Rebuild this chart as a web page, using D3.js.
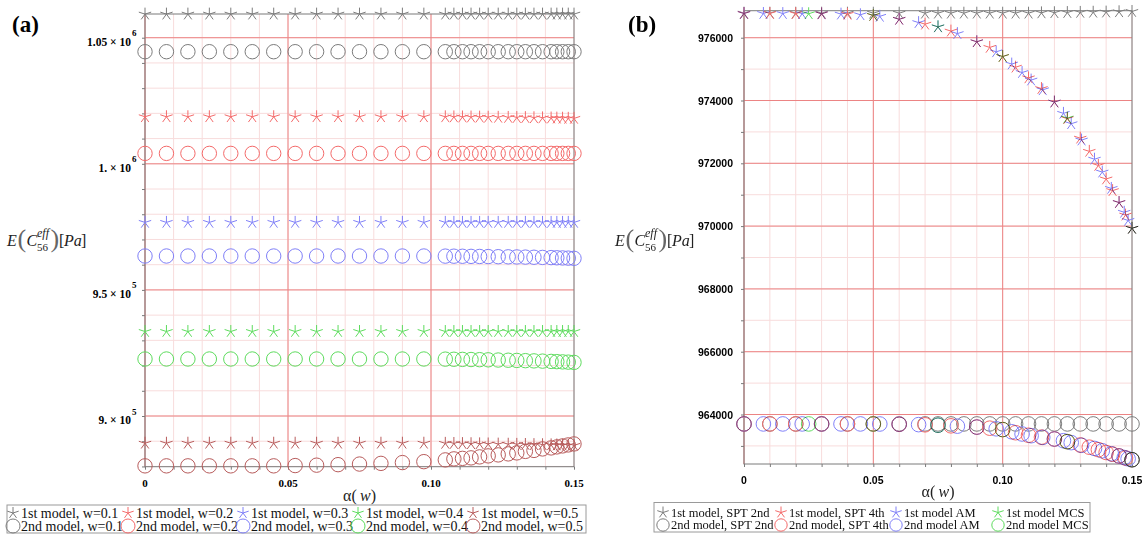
<!DOCTYPE html>
<html><head><meta charset="utf-8">
<script src="https://cdn.jsdelivr.net/npm/d3@7/dist/d3.min.js"></script>
<style>html,body{margin:0;padding:0;background:#fff;}svg{display:block;}</style>
</head><body>
<svg id="chart" width="1143" height="534"></svg>
<script>
// ================= Panel (a) data =================
const alphaA = [0,0.0075,0.015,0.0225,0.03,0.0375,0.045,0.0525,0.06,0.0675,0.075,0.0825,0.09,0.0975,0.105,0.108,0.111,0.114,0.117,0.12,0.1235,0.127,0.13,0.133,0.136,0.139,0.142,0.144,0.146,0.148,0.15];
const m1_w01 = [1059350,1059350,1059350,1059350,1059350,1059350,1059350,1059350,1059350,1059350,1059350,1059350,1059350,1059350,1059350,1059350,1059350,1059350,1059350,1059350,1059350,1059350,1059350,1059350,1059350,1059350,1059350,1059350,1059350,1059350,1059350];
const m2_w01 = [1044450,1044450,1044450,1044450,1044450,1044450,1044450,1044450,1044450,1044450,1044450,1044450,1044450,1044450,1044450,1044450,1044450,1044450,1044450,1044450,1044450,1044450,1044450,1044450,1044450,1044450,1044450,1044450,1044450,1044450,1044450];
const m1_w02 = [1018650,1018650,1018650,1018650,1018650,1018650,1018650,1018650,1018650,1018650,1018650,1018650,1018650,1018650,1018620,1018590,1018560,1018530,1018500,1018460,1018420,1018380,1018340,1018300,1018250,1018200,1018150,1018110,1018070,1018030,1018000];
const m2_w02 = [1004130,1004130,1004130,1004130,1004130,1004130,1004130,1004130,1004130,1004130,1004130,1004130,1004130,1004130,1004130,1004130,1004130,1004130,1004130,1004130,1004130,1004130,1004130,1004130,1004130,1004130,1004130,1004130,1004130,1004130,1004130];
const m1_w03 = [976760,976760,976760,976760,976760,976760,976760,976760,976760,976760,976760,976760,976760,976760,976760,976760,976760,976760,976760,976760,976760,976760,976760,976760,976760,976760,976760,976760,976760,976760,976760];
const m2_w03 = [963440,963440,963440,963440,963440,963440,963440,963440,963440,963440,963440,963440,963440,963440,963400,963370,963340,963300,963260,963220,963170,963120,963070,963010,962950,962880,962810,962740,962670,962600,962530];
const m1_w04 = [933500,933500,933500,933500,933500,933500,933500,933500,933500,933500,933500,933500,933500,933500,933500,933500,933500,933500,933500,933500,933500,933500,933500,933500,933500,933500,933500,933500,933500,933500,933500];
const m2_w04 = [922600,922600,922600,922600,922600,922600,922600,922600,922600,922600,922600,922600,922600,922600,922550,922500,922450,922400,922340,922280,922200,922120,922040,921950,921860,921760,921650,921560,921460,921360,921260];
const m1_w05 = [889200,889200,889200,889200,889200,889200,889200,889200,889200,889200,889200,889200,889200,889200,889150,889100,889050,889000,888950,888900,888850,888800,888750,888700,888650,888600,888550,888500,888450,888400,888350];
const m2_w05 = [880235,880235,880235,880235,880235,880235,880235,880350,880510,880710,880950,881220,881540,881900,882600,883000,883200,883400,883790,884190,884580,884980,885370,885970,886360,886950,887350,887750,888140,888540,888930];
const legendA1 = ["1st model, w=0.1","1st model, w=0.2","1st model, w=0.3","1st model, w=0.4","1st model, w=0.5"];
const legendA2 = ["2nd model, w=0.1","2nd model, w=0.2","2nd model, w=0.3","2nd model, w=0.4","2nd model, w=0.5"];
const xTickVals = [0,0.05,0.10,0.15];
const xTickLabels = ["0","0.05","0.10","0.15"];
const yTicksA = [900000,950000,1000000,1050000];
const yTickLabelsA = ["9. \u00d7 10","9.5 \u00d7 10","1. \u00d7 10","1.05 \u00d7 10"];
const yTickExpA = ["5","5","6","6"];

// ================= Panel (b) data =================
const alphaB_spt2 = [0,0.01,0.02,0.03,0.04,0.05,0.06,0.07,0.075,0.08,0.085,0.09,0.095,0.1,0.105,0.11,0.115,0.12,0.125,0.13,0.135,0.14,0.145,0.15];
const m1_spt2 = [976780,976780,976780,976780,976780,976780,976780,976780,976780,976780,976780,976780,976780,976780,976780,976780,976790,976795,976800,976805,976810,976815,976825,976835];
const m2_spt2 = [963700,963700,963700,963700,963700,963700,963700,963700,963700,963700,963700,963700,963700,963700,963700,963700,963700,963700,963700,963700,963700,963700,963700,963700];
const alphaB_spt4 = [0,0.01,0.02,0.03,0.04,0.05,0.06,0.07,0.08,0.09,0.095,0.1,0.105,0.11,0.115,0.12,0.125,0.13,0.1335,0.137,0.14,0.1425,0.145,0.1475,0.15];
const m1_spt4 = [976770,976770,976765,976760,976745,976705,976585,976430,976210,975870,975690,975400,975060,974720,974380,973950,973420,972800,972380,971930,971500,971130,970750,970350,969930];
const m2_spt4 = [963700,963700,963700,963700,963700,963700,963690,963672,963640,963600,963565,963520,963420,963340,963280,963220,963135,963030,962960,962880,962790,962735,962680,962615,962560];
const alphaB_am = [0,0.0075,0.015,0.0225,0.03,0.0375,0.045,0.0525,0.06,0.0675,0.075,0.0825,0.09,0.0975,0.1035,0.1075,0.111,0.1155,0.12,0.1235,0.1265,0.1305,0.1355,0.1385,0.142,0.145,0.147,0.1485,0.15];
const m1_am = [976770,976770,976768,976764,976760,976750,976730,976680,976585,976480,976345,976130,975870,975550,975160,974890,974650,974340,973950,973590,973260,972740,972130,971720,971200,970750,970440,970180,969930];
const m2_am = [963700,963700,963700,963700,963700,963700,963700,963698,963690,963678,963660,963630,963600,963545,963450,963380,963325,963272,963220,963165,963105,963020,962920,962845,962750,962680,962630,962590,962560];
const alphaB_mcs = [0.025,0.05,0.075,0.1,0.125,0.15];
const m1_mcs = [976762,976710,976345,975400,973440,969930];
const m2_mcs = [963700,963700,963660,963520,963135,962560];
const legendB1 = ["1st model, SPT 2nd","1st model, SPT 4th","1st model AM","1st model MCS"];
const legendB2 = ["2nd model, SPT 2nd","2nd model, SPT 4th","2nd model AM","2nd model MCS"];
const yTicksB = [964000,966000,968000,970000,972000,974000,976000];

// ================= Styles =================
const SERIF = "'Liberation Serif','Times New Roman',Times,serif";
const SANS = "'Liberation Sans',Arial,Helvetica,sans-serif";
const MAJOR = "#ec8484", MINOR = "#f8dcdc", AXIS = "#7a7a7a";
const C_GRAY = "#7c7c7c", C_RED = "#f46a6a", C_BLUE = "#8080f8", C_GREEN = "#5edc5e", C_BROWN = "#b85c5c";

const svg = d3.select("#chart");

function starPath(r){
  return [90,18,-54,-126,162].map(a=>{
    const t=a*Math.PI/180;
    return `M0,0L${(r*Math.cos(t)).toFixed(2)},${(-r*Math.sin(t)).toFixed(2)}`;
  }).join("");
}

function panel(o){
  const g = svg.append("g");
  const [xl,xr] = o.x.range(), [yb,yt] = o.y.range();
  g.append("g").selectAll("line").data(o.xMinor).join("line")
    .attr("x1",d=>o.x(d)).attr("x2",d=>o.x(d)).attr("y1",yb).attr("y2",yt).attr("stroke",MINOR);
  g.append("g").selectAll("line").data(o.yMinor).join("line")
    .attr("y1",d=>o.y(d)).attr("y2",d=>o.y(d)).attr("x1",xl).attr("x2",xr).attr("stroke",MINOR);
  g.append("g").selectAll("line").data(o.xMajor).join("line")
    .attr("x1",d=>o.x(d)).attr("x2",d=>o.x(d)).attr("y1",yb).attr("y2",yt).attr("stroke",MAJOR);
  g.append("g").selectAll("line").data(o.yMajor).join("line")
    .attr("y1",d=>o.y(d)).attr("y2",d=>o.y(d)).attr("x1",xl).attr("x2",xr).attr("stroke",MAJOR);
  const clean = s=>{ s.select(".domain").remove(); s.selectAll("line").attr("stroke",AXIS); };
  g.append("g").attr("transform",`translate(${xl},0)`)
    .call(d3.axisLeft(o.y).tickValues(o.yMinor).tickSize(3).tickFormat("")).call(clean);
  g.append("g").attr("transform",`translate(0,${yb})`)
    .call(d3.axisBottom(o.x).tickValues(o.xMinor).tickSize(3).tickFormat("")).call(clean);
  g.append("rect").attr("x",xl).attr("y",yt).attr("width",xr-xl).attr("height",yb-yt)
    .attr("fill","none").attr("stroke",AXIS);
  return g;
}

function marks(g,o,xs,ys,shape,color,blend){
  const pts = xs.map((a,i)=>[a,ys[i]]);
  const s = g.append("g").attr("fill","none").attr("stroke",color).attr("stroke-width",1);
  if(blend) s.style("mix-blend-mode","multiply");
  if(shape==="circle"){
    s.selectAll("circle").data(pts).join("circle")
      .attr("cx",d=>o.x(d[0])).attr("cy",d=>o.y(d[1])).attr("r",o.rc);
  } else {
    s.selectAll("path").data(pts).join("path")
      .attr("transform",d=>`translate(${o.x(d[0])},${o.y(d[1])})`).attr("d",starPath(o.rs));
  }
}

function yLabel(x0,base){
  const g = svg.append("g").attr("font-family",SERIF);
  const t=(x,y,s,fs,it,fill)=>g.append("text").attr("x",x0+x).attr("y",y).attr("font-size",fs)
    .attr("font-style",it?"italic":"normal").attr("fill",fill||"#222").text(s);
  t(0,base,"E",16,true);
  t(10.5,base+1,"(",26,false,"#666");
  t(19.5,base,"C",16,true);
  t(30,base-9,"eff",12,true);
  t(30,base+5,"56",11,false);
  t(43.5,base+1,")",26,false,"#666");
  t(52,base,"[",16,false);
  t(57,base,"Pa",16,true);
  t(74,base,"]",16,false);
}

function xLabel(cx,base){
  const tx = svg.append("text").attr("x",cx).attr("y",base).attr("text-anchor","middle")
    .attr("font-family",SERIF).attr("font-size",16).attr("fill","#222");
  tx.append("tspan").text("\u03b1(\u2009");
  tx.append("tspan").attr("font-style","italic").text("w");
  tx.append("tspan").text(")");
}

function legend(box,cols,rows,labels1,labels2,colors,fs,rs,rc){
  const g = svg.append("g");
  g.append("rect").attr("x",box[0]).attr("y",box[1]).attr("width",box[2]).attr("height",box[3])
    .attr("fill","#fff").attr("stroke","#9a9a9a");
  const items = [];
  labels1.forEach((l,i)=>items.push({x:cols[i],y:rows[0],l,shape:"star",c:colors[i]}));
  labels2.forEach((l,i)=>items.push({x:cols[i],y:rows[1],l,shape:"circle",c:colors[i]}));
  items.forEach(d=>{
    if(d.shape==="star") g.append("path").attr("transform",`translate(${d.x},${d.y})`).attr("d",starPath(rs))
      .attr("fill","none").attr("stroke",d.c);
    else g.append("circle").attr("cx",d.x).attr("cy",d.y).attr("r",rc).attr("fill","none").attr("stroke",d.c);
    g.append("text").attr("x",d.x+8).attr("y",d.y+fs*0.33).attr("font-family",SERIF).attr("font-size",fs)
      .attr("fill","#111").text(d.l);
  });
}

// ================= Panel (a) =================
const oA = {
  x: d3.scaleLinear([0,0.15],[145,574]),
  y: d3.scaleLinear([879900,1059400],[466.7,14]),
  xMinor: d3.range(0,0.1501,0.01), yMinor: d3.range(880000,1059400,10000),
  xMajor: [0,0.05,0.10], yMajor: yTicksA, rs:6.5, rc:7.2
};
const gA = panel(oA);
const seriesA = [
  [m1_w01,"star",C_GRAY],[m2_w01,"circle",C_GRAY],
  [m1_w02,"star",C_RED],[m2_w02,"circle",C_RED],
  [m1_w03,"star",C_BLUE],[m2_w03,"circle",C_BLUE],
  [m1_w04,"star",C_GREEN],[m2_w04,"circle",C_GREEN],
  [m1_w05,"star",C_BROWN],[m2_w05,"circle",C_BROWN]
];
seriesA.forEach(s=>marks(gA,oA,alphaA,s[0],s[1],s[2],false));
xTickVals.forEach((v,i)=>svg.append("text").attr("x",oA.x(v)).attr("y",487).attr("text-anchor","middle")
  .attr("font-family",SERIF).attr("font-weight","bold").attr("font-size",11).text(xTickLabels[i]));
yTicksA.forEach((v,i)=>{
  const y = oA.y(v);
  svg.append("text").attr("x",131).attr("y",y+8.3).attr("text-anchor","end").attr("font-family",SERIF)
    .attr("font-weight","bold").attr("font-size",11.5).text(yTickLabelsA[i]);
  svg.append("text").attr("x",132).attr("y",y-1.5).attr("font-family",SERIF)
    .attr("font-weight","bold").attr("font-size",9).text(yTickExpA[i]);
});
yLabel(7,246);
xLabel(359.5,501);
svg.append("text").attr("x",12).attr("y",32).attr("font-family",SERIF).attr("font-weight","bold")
  .attr("font-size",23).text("(a)");
legend([7,505,579,28],[13,128,243,358,473],[513,526],legendA1,legendA2,
  [C_GRAY,C_RED,C_BLUE,C_GREEN,C_BROWN],14,6,7);

// ================= Panel (b) =================
const oB = {
  x: d3.scaleLinear([0,0.15],[744,1132]),
  y: d3.scaleLinear([962424,976860],[464,10.7]),
  xMinor: d3.range(0,0.1501,0.01), yMinor: d3.range(963000,976860,1000),
  xMajor: [0,0.05,0.10], yMajor: yTicksB, rs:6.5, rc:7.3
};
const gB = panel(oB);
// gray (SPT 2nd) drawn underneath; the coloured methods are blended among themselves
marks(gB,oB,alphaB_spt2,m1_spt2,"star",C_GRAY,false);
marks(gB,oB,alphaB_spt2,m2_spt2,"circle",C_GRAY,false);
const gBc = gB.append("g").style("isolation","isolate");
const seriesB = [
  [alphaB_spt4,m1_spt4,"star",C_RED],[alphaB_spt4,m2_spt4,"circle",C_RED],
  [alphaB_am,m1_am,"star",C_BLUE],[alphaB_am,m2_am,"circle",C_BLUE],
  [alphaB_mcs,m1_mcs,"star",C_GREEN],[alphaB_mcs,m2_mcs,"circle",C_GREEN]
];
seriesB.forEach(s=>marks(gBc,oB,s[0],s[1],s[2],s[3],true));
xTickVals.forEach((v,i)=>svg.append("text").attr("x",oB.x(v)).attr("y",484).attr("text-anchor","middle")
  .attr("font-family",SANS).attr("font-weight","bold").attr("font-size",10.5).text(xTickLabels[i]));
yTicksB.forEach(v=>svg.append("text").attr("x",733).attr("y",oB.y(v)+4).attr("text-anchor","end")
  .attr("font-family",SANS).attr("font-weight","bold").attr("font-size",10.5).text(String(v)));
yLabel(615,246);
xLabel(938,497);
svg.append("text").attr("x",628).attr("y",32).attr("font-family",SERIF).attr("font-weight","bold")
  .attr("font-size",23).text("(b)");
legend([654,502.5,436,29.5],[663,781,896,998],[512.5,525],legendB1,legendB2,
  [C_GRAY,C_RED,C_BLUE,C_GREEN],12.5,6,6.2);
</script>
</body></html>
